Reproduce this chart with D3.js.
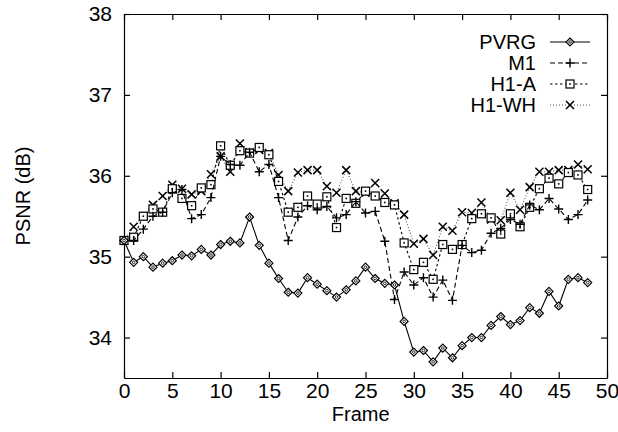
<!DOCTYPE html>
<html>
<head>
<meta charset="utf-8">
<script src="https://cdn.jsdelivr.net/npm/d3@7"></script>
<style>
  body { margin: 0; background: #fff; }
  text { font-family: "Liberation Sans", Arial, sans-serif; fill: #000; }
  .axis path, .axis line { stroke: #000; stroke-width: 1.2; }
</style>
</head>
<body>
<script>
// frame numbers and PSNR (dB) per coder
var frames = d3.range(0, 49);
var pvrg = [35.2,34.93,35.0,34.87,34.92,34.95,35.02,35.01,35.09,35.02,
            35.15,35.19,35.17,35.49,35.14,34.92,34.73,34.56,34.55,34.74,
            34.66,34.58,34.5,34.59,34.7,34.87,34.73,34.67,34.65,34.2,
            33.82,33.84,33.7,33.87,33.75,33.9,34.0,34.0,34.15,34.26,
            34.16,34.21,34.37,34.3,34.57,34.39,34.72,34.74,34.68];
var m1 = [35.2,35.2,35.34,35.5,35.55,35.79,35.83,35.47,35.52,35.73,
          36.24,36.14,36.13,36.29,36.05,36.14,35.73,35.2,35.49,35.63,
          35.58,35.62,35.48,35.52,35.68,35.54,35.56,35.19,34.47,34.81,
          34.65,34.74,34.5,34.71,34.46,35.14,35.05,35.08,35.29,35.35,
          35.46,35.4,35.64,35.58,35.72,35.59,35.46,35.52,35.7];
var h1a = [35.2,35.24,35.5,35.59,35.55,35.84,35.72,35.63,35.85,35.89,
           36.37,36.13,36.31,36.28,36.35,36.26,35.93,35.55,35.61,35.75,
           35.65,35.74,35.36,35.72,35.66,35.81,35.75,35.67,35.64,35.17,
           34.84,34.93,34.72,35.15,35.09,35.15,35.47,35.53,35.48,35.28,
           35.53,35.37,35.61,35.84,35.97,35.9,36.04,36.01,35.83];
var h1wh = [35.2,35.37,35.5,35.64,35.75,35.89,35.84,35.77,35.81,36.02,
            36.24,36.05,36.4,36.29,36.32,36.28,36.01,35.81,36.04,36.07,
            36.07,35.87,35.79,36.07,35.81,35.79,35.91,35.78,35.66,35.52,
            35.16,35.22,35.02,35.37,35.32,35.55,35.54,35.67,35.46,35.45,
            35.79,35.58,35.86,36.05,36.05,36.07,36.07,36.14,36.08];
var seriesNames = ["PVRG", "M1", "H1-A", "H1-WH"];
var xTicks = [0, 5, 10, 15, 20, 25, 30, 35, 40, 45, 50];
var yTicks = [34, 35, 36, 37, 38];

var width = 618, height = 432;
var margin = {top: 14, right: 11, bottom: 54, left: 124};
var w = width - margin.left - margin.right;
var h = height - margin.top - margin.bottom;

var svg = d3.select("body").append("svg")
    .attr("width", width)
    .attr("height", height)
    .append("g")
    .attr("transform", "translate(" + margin.left + "," + margin.top + ")");

var x = d3.scaleLinear().domain([0, 50]).range([0, w]);
var y = d3.scaleLinear().domain([33.5, 38]).range([h, 0]);

// axes, ticks pointing inward on all four sides
svg.append("g").attr("class", "axis")
    .attr("transform", "translate(0," + h + ")")
    .call(d3.axisBottom(x).tickValues(xTicks).tickFormat(d3.format("d"))
        .tickSize(-6).tickSizeOuter(0).tickPadding(5));
svg.append("g").attr("class", "axis")
    .call(d3.axisTop(x).tickValues(xTicks).tickSize(-6).tickSizeOuter(0).tickFormat(""));
svg.append("g").attr("class", "axis")
    .call(d3.axisLeft(y).tickValues(yTicks).tickFormat(d3.format("d"))
        .tickSize(-6).tickSizeOuter(0).tickPadding(12));
svg.append("g").attr("class", "axis")
    .attr("transform", "translate(" + w + ",0)")
    .call(d3.axisRight(y).tickValues(yTicks).tickSize(-6).tickSizeOuter(0).tickFormat(""));
svg.selectAll(".axis text").style("font-size", "21px");

// axis titles
svg.append("text")
    .attr("x", x(24.5)).attr("y", h + 43)
    .attr("text-anchor", "middle")
    .style("font-size", "20px")
    .text("Frame");
svg.append("text")
    .attr("transform", "translate(" + (-94) + "," + (y(35.75)) + ") rotate(-90)")
    .attr("text-anchor", "middle")
    .style("font-size", "20px")
    .text("PSNR (dB)");

var styles = [
    {values: pvrg, dash: null, color: "#000", marker: "diamond"},
    {values: m1, dash: "5,3", color: "#000", marker: "plus"},
    {values: h1a, dash: "2.5,2.5", color: "#000", marker: "square"},
    {values: h1wh, dash: "1,2", color: "#555", marker: "cross"}
];

function drawMarker(g, type, cx, cy) {
    if (type === "diamond") {
        g.append("path").attr("d", "M" + cx + "," + (cy - 4) + "L" + (cx + 4) + "," + cy +
            "L" + cx + "," + (cy + 4) + "L" + (cx - 4) + "," + cy + "Z")
            .attr("fill", "#fff").attr("stroke", "#000").attr("stroke-width", 1.2);
        g.append("circle").attr("cx", cx).attr("cy", cy).attr("r", 1.3)
            .attr("fill", "none").attr("stroke", "#000").attr("stroke-width", 0.8);
    } else if (type === "plus") {
        g.append("path").attr("d", "M" + (cx - 4.5) + "," + cy + "H" + (cx + 4.5) +
            "M" + cx + "," + (cy - 4.5) + "V" + (cy + 4.5))
            .attr("stroke", "#000").attr("stroke-width", 1.4);
    } else if (type === "square") {
        g.append("rect").attr("x", cx - 4).attr("y", cy - 4).attr("width", 8).attr("height", 8)
            .attr("fill", "#fff").attr("stroke", "#000").attr("stroke-width", 1.2);
        g.append("rect").attr("x", cx - 0.8).attr("y", cy - 0.8).attr("width", 1.6).attr("height", 1.6)
            .attr("fill", "#000");
    } else {
        g.append("path").attr("d", "M" + (cx - 4) + "," + (cy - 4) + "L" + (cx + 4) + "," + (cy + 4) +
            "M" + (cx + 4) + "," + (cy - 4) + "L" + (cx - 4) + "," + (cy + 4))
            .attr("stroke", "#000").attr("stroke-width", 1.5);
    }
}

var line = d3.line()
    .x(function(d, i) { return x(frames[i]); })
    .y(function(d) { return y(d); });

// draw lines from back to front, then markers
styles.slice().reverse().forEach(function(s) {
    svg.append("path")
        .datum(s.values)
        .attr("d", line)
        .attr("fill", "none")
        .attr("stroke", s.color)
        .attr("stroke-width", 1.1)
        .attr("stroke-dasharray", s.dash);
    var mg = svg.append("g");
    s.values.forEach(function(v, i) {
        drawMarker(mg, s.marker, x(frames[i]), y(v));
    });
});

// legend
var legend = svg.append("g").attr("transform", "translate(" + (w - 71) + ",28)");
seriesNames.forEach(function(name, i) {
    var s = styles[i];
    var ly = i * 21;
    legend.append("text")
        .attr("x", 0).attr("y", ly + 7)
        .attr("text-anchor", "end")
        .style("font-size", "20px")
        .text(name);
    legend.append("line")
        .attr("x1", 14).attr("x2", 54).attr("y1", ly).attr("y2", ly)
        .attr("stroke", s.color).attr("stroke-width", 1.1)
        .attr("stroke-dasharray", s.dash);
    drawMarker(legend, s.marker, 34, ly);
});
</script>
</body>
</html>
